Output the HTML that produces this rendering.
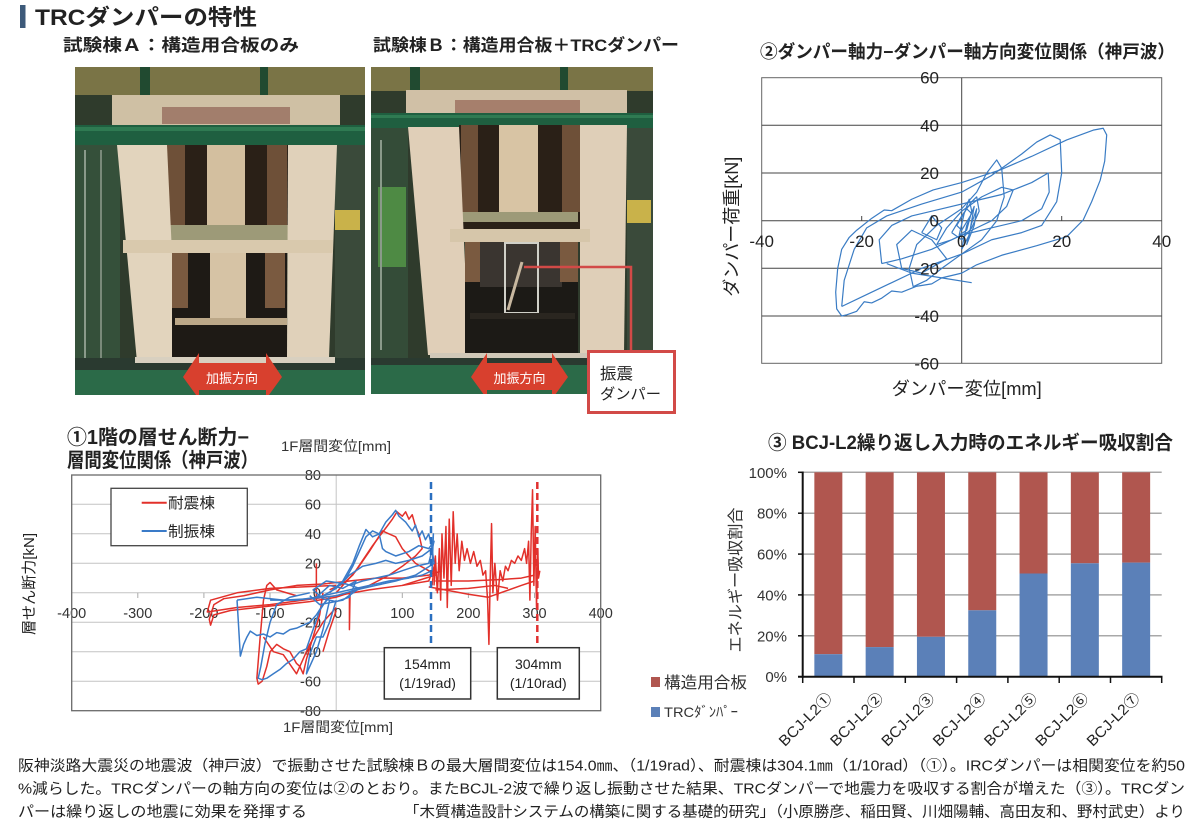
<!DOCTYPE html>
<html lang="ja">
<head>
<meta charset="utf-8">
<style>
html,body{margin:0;padding:0;background:#fff;}
svg{display:block;}
text{font-family:"Liberation Sans","Noto Sans CJK JP",sans-serif;}
.b{font-weight:bold;}
</style>
</head>
<body>
<svg width="1190" height="836" viewBox="0 0 1190 836" xmlns="http://www.w3.org/2000/svg">
<rect width="1190" height="836" fill="#fff"/>
<defs>
<clipPath id="cA"><rect x="75" y="67" width="290" height="328"/></clipPath>
<clipPath id="cB"><rect x="371" y="67" width="282" height="327"/></clipPath>
<clipPath id="c1"><rect x="71.7" y="475" width="529" height="235.7"/></clipPath>
<clipPath id="c2"><rect x="761.7" y="77.7" width="400" height="285.6"/></clipPath>
</defs>

<!-- Header -->
<rect x="20" y="5" width="5.5" height="23" fill="#3d5a7a"/>
<text x="35" y="25" font-size="22" class="b" fill="#222" textLength="222" lengthAdjust="spacingAndGlyphs">TRCダンパーの特性</text>
<text x="63" y="51" font-size="17" class="b" fill="#222" textLength="236" lengthAdjust="spacingAndGlyphs">試験棟Ａ：構造用合板のみ</text>
<text x="373" y="51" font-size="17" class="b" fill="#222" textLength="306" lengthAdjust="spacingAndGlyphs">試験棟Ｂ：構造用合板＋TRCダンパー</text>

<!-- Photo A -->
<g clip-path="url(#cA)">
<rect x="75" y="67" width="290" height="328" fill="#2f3b2c"/>
<rect x="75" y="67" width="290" height="28" fill="#7a7446"/>
<rect x="140" y="67" width="10" height="60" fill="#214a30"/>
<rect x="260" y="67" width="8" height="60" fill="#214a30"/>
<rect x="75" y="145" width="45" height="225" fill="#35503a"/>
<rect x="84" y="150" width="2" height="210" fill="#8a9a8a"/>
<rect x="100" y="150" width="2" height="210" fill="#7a8a7a"/>
<rect x="335" y="145" width="30" height="225" fill="#3a4a3a"/>
<rect x="335" y="210" width="25" height="20" fill="#c9b24a"/>
<rect x="112" y="95" width="228" height="30" fill="#cfc0a4"/>
<rect x="162" y="107" width="128" height="17" fill="#a27e6c"/>
<rect x="75" y="125" width="290" height="20" fill="#1f5f40"/>
<rect x="75" y="127" width="290" height="4" fill="#2f7a52"/>
<rect x="165" y="145" width="125" height="95" fill="#2a2017"/>
<rect x="167" y="145" width="18" height="85" fill="#6e5038"/>
<rect x="267" y="145" width="20" height="85" fill="#6e5038"/>
<rect x="207" y="145" width="38" height="85" fill="#d3bf9f"/>
<rect x="170" y="225" width="120" height="15" fill="#9d9a78"/>
<polygon points="117,145 167,145 177,362 137,362" fill="#e2d4bd"/>
<polygon points="288,145 337,145 329,358 287,358" fill="#e0d1ba"/>
<rect x="123" y="240" width="210" height="13" fill="#d9c9ad"/>
<rect x="172" y="253" width="115" height="105" fill="#1e1a15"/>
<rect x="172" y="253" width="16" height="55" fill="#7a5a40"/>
<rect x="265" y="253" width="20" height="55" fill="#7a5a40"/>
<rect x="210" y="253" width="36" height="68" fill="#d6c3a5"/>
<rect x="175" y="318" width="112" height="7" fill="#bca888"/>
<rect x="75" y="358" width="290" height="14" fill="#2a3a30"/>
<rect x="135" y="357" width="200" height="6" fill="#d8d0c0"/>
<rect x="75" y="370" width="290" height="25" fill="#2b6a48"/>
<polygon points="183,377 199,353 199,363 266,363 266,353 282,377 266,399 266,390 199,390 199,399" fill="#d8402e"/>
<text x="232" y="383" font-size="13" fill="#fff" text-anchor="middle" textLength="52" lengthAdjust="spacingAndGlyphs">加振方向</text>
</g>

<!-- Photo B -->
<g clip-path="url(#cB)">
<rect x="371" y="67" width="282" height="327" fill="#2f3b2c"/>
<rect x="371" y="67" width="282" height="24" fill="#7a7446"/>
<rect x="410" y="67" width="10" height="40" fill="#214a30"/>
<rect x="560" y="67" width="8" height="40" fill="#214a30"/>
<rect x="371" y="128" width="37" height="230" fill="#344c38"/>
<rect x="378" y="187" width="28" height="80" fill="#4e8a44"/>
<rect x="380" y="140" width="2" height="210" fill="#8a9a8a"/>
<rect x="627" y="128" width="26" height="230" fill="#3a4a3a"/>
<rect x="627" y="200" width="24" height="23" fill="#c9b24a"/>
<rect x="406" y="90" width="221" height="25" fill="#d0c0a6"/>
<rect x="455" y="100" width="125" height="15" fill="#a67f6c"/>
<rect x="371" y="113" width="282" height="15" fill="#1f5f40"/>
<rect x="371" y="115" width="282" height="3" fill="#2f7a52"/>
<rect x="459" y="125" width="121" height="107" fill="#2a2017"/>
<rect x="461" y="125" width="17" height="87" fill="#6e5038"/>
<rect x="562" y="125" width="18" height="87" fill="#6e5038"/>
<rect x="499" y="125" width="39" height="87" fill="#d8c4a4"/>
<rect x="462" y="212" width="116" height="10" fill="#9d9a78"/>
<polygon points="408,127 459,127 469,355 428,355" fill="#e0cfb8"/>
<polygon points="580,125 627,125 624,353 580,353" fill="#dfcfb8"/>
<rect x="450" y="229" width="140" height="13" fill="#d6c6aa"/>
<rect x="465" y="242" width="113" height="111" fill="#1c1a16"/>
<rect x="480" y="242" width="82" height="45" fill="#3a3530"/>
<rect x="465" y="242" width="15" height="40" fill="#7a5a40"/>
<rect x="560" y="242" width="18" height="40" fill="#7a5a40"/>
<rect x="505" y="243" width="33" height="70" fill="none" stroke="#d0d0c8" stroke-width="2"/>
<line x1="508" y1="310" x2="522" y2="262" stroke="#c8b8a0" stroke-width="3"/>
<rect x="470" y="313" width="105" height="6" fill="#2a2620"/>
<rect x="430" y="353" width="175" height="5" fill="#d0c8b8"/>
<rect x="371" y="358" width="282" height="10" fill="#2a3a30"/>
<rect x="371" y="365" width="282" height="29" fill="#2b6a48"/>
<polygon points="471,377 487,353 487,363 552,363 552,353 568,377 552,399 552,390 487,390 487,399" fill="#d8402e"/>
<text x="519.5" y="383" font-size="13" fill="#fff" text-anchor="middle" textLength="52" lengthAdjust="spacingAndGlyphs">加振方向</text>
</g>
<polyline points="524,267 631,267 631,351" fill="none" stroke="#d24a47" stroke-width="2.5"/>
<rect x="588.5" y="351.5" width="86" height="61" fill="#fff" stroke="#d24a47" stroke-width="3"/>
<text x="600" y="379" font-size="16" fill="#222" textLength="33" lengthAdjust="spacingAndGlyphs">振震</text>
<text x="600" y="399" font-size="15" fill="#222" textLength="61" lengthAdjust="spacingAndGlyphs">ダンパー</text>

<!-- Chart 2 -->
<text x="760" y="58" font-size="18" class="b" fill="#222" textLength="415" lengthAdjust="spacingAndGlyphs">②ダンパー軸力−ダンパー軸方向変位関係（神戸波）</text>
<rect x="761.7" y="77.7" width="400" height="285.6" fill="#fff" stroke="#666" stroke-width="1"/>
<g stroke="#444" stroke-width="1">
<line x1="761.7" y1="125.3" x2="1161.7" y2="125.3"/>
<line x1="761.7" y1="173" x2="1161.7" y2="173"/>
<line x1="761.7" y1="220.7" x2="1161.7" y2="220.7"/>
<line x1="761.7" y1="268.3" x2="1161.7" y2="268.3"/>
<line x1="761.7" y1="316" x2="1161.7" y2="316"/>
<line x1="961.7" y1="77.7" x2="961.7" y2="363.3"/>
<line x1="861.7" y1="216" x2="861.7" y2="220.7"/>
<line x1="1061.7" y1="216" x2="1061.7" y2="220.7"/>
</g>
<g clip-path="url(#c2)">
<g transform="translate(961.7,220.7) scale(5,-2.383)" fill="none" stroke="#3a7cc4" stroke-width="1.2" stroke-linejoin="round">
<path vector-effect="non-scaling-stroke" d="M0 -22 L-4 -24 L-6 -26.5 L-9 -27.5 L-12 -30 L-14 -29.5 L-16 -32.5 L-18 -34.5 L-19.5 -34 L-21 -38 L-23 -39.5 L-24 -40 L-25 -37 L-25.2 -30 L-24.8 -20 L-24 -12 L-22.5 -7 L-21 -4 L-18 1 L-15.5 4.5 L-14 4.2 L-10 9 L-5.7 12.9 L0 16 L7.7 21.3 L14 27 L21 33.9 L26.3 38 L28.3 38.8 L29 36 L28.6 25 L27.7 17 L26 8 L24.3 0.3 L21 -6.7 L15 -10.5 L8 -14.5 L3 -18.5 L0 -22"/>
<path vector-effect="non-scaling-stroke" d="M-24 -36 L-23.5 -25 L-21.5 -12 L-19 -3 L-15 2 L-8 7 L0 12 L6 19 L12 28 L15 33 L17.7 36 L19.7 34 L20 20 L19 8 L16 -2 L12 -5 L6 -8 L0 -14 L-8 -20 L-14 -26 L-20 -32 L-24 -36"/>
<path vector-effect="non-scaling-stroke" d="M-16 -18 L-16.5 -8 L-14 -2 L-10 2 L-4 5 L2 8 L8 11 L14 16 L17.3 20 L17.5 12 L16 5 L12 0 L6 -3 L0 -6 L-6 -12 L-12 -16 L-16 -18"/>
<path vector-effect="non-scaling-stroke" d="M-9.7 -27.7 L-10.5 -20 L-9 -10 L-5 -2 L0 5 L3 12 L5 20 L7 25.5 L8 22 L8.5 10 L7 0 L4 -8 L0 -14 L-4 -20 L-7 -25 L-9.7 -27.7"/>
<path vector-effect="non-scaling-stroke" d="M-5 -10 L-3 -3 L0 4 L4 10 L8 14 L10.3 12.9 L9 6 L6 0 L2 -4 L-2 -8 L-5 -10"/>
<path vector-effect="non-scaling-stroke" d="M-2 -5 L0 2 L2 8 L3 10 L3.5 4 L2 -3 L0 -8 L-2 -5 M-1 -2 L1 5 L2 3 L0 -4 Z M0 -12 L1 -2 L2.5 6 L1.5 -6 L0 -12 M-0.5 -6 L0.5 3 L1.5 9 L2 4 L1 -4 Z M1 -10 L2 -1 L3 5 L2.5 -2 Z"/>
<path vector-effect="non-scaling-stroke" d="M-8 -5 L-6 2 L-4 -3 L-5 -8 L-8 -5 M-12 -20 L-13 -10 L-10 -4 L-6 -8 L-3 -16 L-8 -22 Z"/>
<path vector-effect="non-scaling-stroke" d="M-15 -18 L-10 -22 L-4 -24 L2 -26"/>
</g>
</g>
<g font-size="17" fill="#222">
<text x="761.7" y="247" text-anchor="middle">-40</text>
<text x="861.7" y="247" text-anchor="middle">-20</text>
<text x="961.7" y="247" text-anchor="middle">0</text>
<text x="1061.7" y="247" text-anchor="middle">20</text>
<text x="1161.7" y="247" text-anchor="middle">40</text>
<text x="939" y="83.7" text-anchor="end">60</text>
<text x="939" y="131.3" text-anchor="end">40</text>
<text x="939" y="179" text-anchor="end">20</text>
<text x="939" y="226.7" text-anchor="end">0</text>
<text x="939" y="274.3" text-anchor="end">-20</text>
<text x="939" y="322" text-anchor="end">-40</text>
<text x="939" y="369.3" text-anchor="end">-60</text>
</g>
<text x="891.7" y="395" font-size="18" fill="#222" textLength="150" lengthAdjust="spacingAndGlyphs">ダンパー変位[mm]</text>
<text transform="translate(738,226.7) rotate(-90)" x="0" y="0" font-size="18" fill="#222" text-anchor="middle" textLength="140" lengthAdjust="spacingAndGlyphs">ダンパー荷重[kN]</text>

<!-- Chart 1 -->
<text x="67" y="444" font-size="20" class="b" fill="#222" textLength="182" lengthAdjust="spacingAndGlyphs">①1階の層せん断力−</text>
<text x="67" y="467" font-size="20" class="b" fill="#222" textLength="191" lengthAdjust="spacingAndGlyphs">層間変位関係（神戸波）</text>
<text x="281" y="451" font-size="14" fill="#333" textLength="110" lengthAdjust="spacingAndGlyphs">1F層間変位[mm]</text>
<rect x="71.7" y="475" width="529" height="235.7" fill="#fff"/>
<g stroke="#c4c4c4" stroke-width="1">
<line x1="71.7" y1="504.3" x2="600.7" y2="504.3"/>
<line x1="71.7" y1="533.7" x2="600.7" y2="533.7"/>
<line x1="71.7" y1="563.3" x2="600.7" y2="563.3"/>
<line x1="71.7" y1="592.8" x2="600.7" y2="592.8"/>
<line x1="71.7" y1="622.2" x2="600.7" y2="622.2"/>
<line x1="71.7" y1="651.7" x2="600.7" y2="651.7"/>
<line x1="71.7" y1="681.2" x2="600.7" y2="681.2"/>
<line x1="336.2" y1="475" x2="336.2" y2="710.7"/>
</g>
<g stroke="#aaa" stroke-width="1">
<line x1="137.8" y1="592.8" x2="137.8" y2="598"/>
<line x1="203.9" y1="592.8" x2="203.9" y2="598"/>
<line x1="270" y1="592.8" x2="270" y2="598"/>
<line x1="402.3" y1="592.8" x2="402.3" y2="598"/>
<line x1="468.4" y1="592.8" x2="468.4" y2="598"/>
<line x1="534.5" y1="592.8" x2="534.5" y2="598"/>
</g>
<g font-size="14.5" fill="#333">
<text x="71.7" y="618" text-anchor="middle">-400</text>
<text x="137.8" y="618" text-anchor="middle">-300</text>
<text x="203.9" y="618" text-anchor="middle">-200</text>
<text x="270" y="618" text-anchor="middle">-100</text>
<text x="338" y="618" text-anchor="middle">0</text>
<text x="402.3" y="618" text-anchor="middle">100</text>
<text x="468.4" y="618" text-anchor="middle">200</text>
<text x="534.5" y="618" text-anchor="middle">300</text>
<text x="600.7" y="618" text-anchor="middle">400</text>
<text x="321" y="480" text-anchor="end">80</text>
<text x="321" y="509.5" text-anchor="end">60</text>
<text x="321" y="539" text-anchor="end">40</text>
<text x="321" y="568.5" text-anchor="end">20</text>
<text x="321" y="598" text-anchor="end">0</text>
<text x="321" y="627.5" text-anchor="end">-20</text>
<text x="321" y="657" text-anchor="end">-40</text>
<text x="321" y="686.5" text-anchor="end">-60</text>
<text x="321" y="716" text-anchor="end">-80</text>
</g>
<g clip-path="url(#c1)">
<g transform="translate(336.2,592.8) scale(0.6611,-1.4728)" fill="none" stroke-linejoin="round">
<g stroke="#e2302a" stroke-width="1.5">
<path vector-effect="non-scaling-stroke" d="M-10 2 L10 6 L25 12 L40 22 L55 32 L65 38 L75 44 L85 50 L92 55 L100 52 L105 55 L110 50 L115 53 L120 45 L125 40 L130 30 L120 25 L100 18 L80 12 L50 5 L20 0 L0 -3 L-40 -6 L-80 -8 L-120 -10 L-160 -12 L-185 -15 L-190 -22 L-192 -18 L-185 -8 L-170 -4 L-140 -2 L-100 2 L-60 5 L-20 6 L20 8 L60 10 L100 10 L140 12 L160 15"/>
<path vector-effect="non-scaling-stroke" d="M0 0 L30 15 L50 28 L60 35 L70 42 L80 40 L90 38 L100 30 L120 20 L140 15 L150 12 L100 5 L50 2 L0 -2 L-50 -5 L-100 -8 L-150 -10 L-195 -13 L-190 -5 L-150 0 L-100 3 L-50 4 L0 5"/>
<path vector-effect="non-scaling-stroke" d="M145 5 L150 25 L153 0 L156 30 L158 -5 L160 40 L163 10 L166 45 L168 -10 L171 50 L174 5 L177 55 L180 20 L183 40 L186 15 L190 35 L194 22 L198 30 L203 20 L208 28 L213 18 L218 22 L222 12 L226 15 L229 -5 L231 -35 L233 10 L235 47 L237 0 L240 20 L244 -5 L248 15 L252 8 L256 18 L260 15 L265 22 L270 20 L275 25 L280 22 L285 30 L288 20 L291 35 L293 -5 L295 40 L297 70 L299 5 L301 45 L303 -10 L305 30 L306 10 L308 15"/>
<path vector-effect="non-scaling-stroke" d="M150 8 L200 8 L250 9 L280 10 L300 12 M150 2 L200 3 L240 5 L260 3 M140 4 L200 -1 L230 -3 L280 5 L300 8 M100 5 L140 8 L150 20 L148 5"/>
<path vector-effect="non-scaling-stroke" d="M-20 0 L-25 -15 L-35 -30 L-45 -45 L-50 -55 L-55 -50 L-60 -48 L-70 -40 L-80 -38 L-90 -35 L-100 -40 L-105 -50 L-112 -60 L-118 -62 L-120 -58 L-115 -30 L-110 -5 L-105 5 L-100 7 L-90 2 L-60 -2"/>
<path vector-effect="non-scaling-stroke" d="M-30 20 L-30 -5 M20 0 L20 -25 L21 0 M-110 -30 L-95 -40 L-80 -42 L-60 -55 L-40 -35 L-20 -20 L0 -10 M-20 -40 L-10 -25 L0 -12"/>
</g>
<g stroke="#3a7bc8" stroke-width="1.5">
<path vector-effect="non-scaling-stroke" d="M-20 -2 L0 3 L15 10 L25 18 L35 28 L45 38 L55 42 L65 40 L75 48 L85 53 L90 56 L95 52 L100 50 L105 48 L110 45 L115 42 L120 46 L125 38 L130 42 L135 36 L140 40 L145 30 L147 40 L145 15 L130 12 L110 10 L80 8 L50 5 L20 2 L0 0 L-30 -3 L-60 -5 L-100 -5"/>
<path vector-effect="non-scaling-stroke" d="M-10 0 L10 8 L25 20 L35 32 L45 43 L55 38 L65 40 L70 30 L75 28 L90 25 L110 28 L125 32 L140 30 L148 35 L140 20 L120 18 L100 15 L80 12 L60 10 L40 8 L20 5"/>
<path vector-effect="non-scaling-stroke" d="M5 5 L20 12 L40 18 L60 20 L75 22 L90 20 L110 22 L130 25 L145 30 L148 20 L120 12 L90 8 L60 5 L30 2 L0 -2 L-40 -4 L-80 -5 L-120 -3 L-150 -5"/>
<path vector-effect="non-scaling-stroke" d="M-15 -5 L-25 -12 L-35 -25 L-45 -38 L-55 -40 L-65 -45 L-75 -48 L-85 -52 L-95 -55 L-105 -58 L-112 -59 L-118 -58 L-114 -50 L-108 -35 L-100 -20 L-90 -8 L-70 -3 L-40 0"/>
<path vector-effect="non-scaling-stroke" d="M-150 -5 L-148 -20 L-145 -43 L-140 -35 L-135 -30 L-130 -26 L-120 -29 L-110 -28 L-100 -30 L-90 -27 L-80 -28 L-70 -25 L-60 -24 L-50 -22 L-40 -20 L-30 -15 L-20 -8 L-10 -3"/>
<path vector-effect="non-scaling-stroke" d="M-10 -5 L-20 -25 L-30 -40 L-40 -50 L-45 -55 L-40 -42 L-30 -30 L-20 -30 L-10 -20 L0 -5"/>
<path vector-effect="non-scaling-stroke" d="M-30 -3 L-10 5 L10 3 L30 8 L20 -3 L0 -6 L-20 -4 L-35 2 L-15 8 L15 6 L35 3 L10 -5 L-25 -8 L-40 -2"/>
</g>
</g>
</g>
<rect x="71.7" y="475" width="529" height="235.7" fill="none" stroke="#6a6a6a" stroke-width="1.3"/>
<rect x="111" y="488.3" width="136.3" height="57.4" fill="#fff" stroke="#444" stroke-width="1.3"/>
<line x1="141.7" y1="502.7" x2="166.7" y2="502.7" stroke="#e2302a" stroke-width="2"/>
<text x="168" y="508" font-size="15" fill="#222" textLength="47" lengthAdjust="spacingAndGlyphs">耐震棟</text>
<line x1="141.7" y1="531" x2="166.7" y2="531" stroke="#3a7bc8" stroke-width="2"/>
<text x="168" y="536.5" font-size="15" fill="#222" textLength="47" lengthAdjust="spacingAndGlyphs">制振棟</text>
<line x1="431" y1="482" x2="431" y2="647" stroke="#2a6fc0" stroke-width="2.5" stroke-dasharray="7,4"/>
<line x1="537.3" y1="482" x2="537.3" y2="648" stroke="#e03030" stroke-width="2.5" stroke-dasharray="7,4"/>
<rect x="384.3" y="647.7" width="86.4" height="51.3" fill="#fff" stroke="#333" stroke-width="1.5"/>
<text x="427.5" y="669" font-size="14" fill="#222" text-anchor="middle">154mm</text>
<text x="427.5" y="688" font-size="14" fill="#222" text-anchor="middle">(1/19rad)</text>
<rect x="497.3" y="647.7" width="82" height="51.3" fill="#fff" stroke="#333" stroke-width="1.5"/>
<text x="538.3" y="669" font-size="14" fill="#222" text-anchor="middle">304mm</text>
<text x="538.3" y="688" font-size="14" fill="#222" text-anchor="middle">(1/10rad)</text>
<text x="283" y="732" font-size="14" fill="#333" textLength="110" lengthAdjust="spacingAndGlyphs">1F層間変位[mm]</text>
<text transform="translate(34,584) rotate(-90)" font-size="15" fill="#222" text-anchor="middle" textLength="102" lengthAdjust="spacingAndGlyphs">層せん断力[kN]</text>

<!-- Chart 3 -->
<text x="768" y="449" font-size="19" class="b" fill="#222" textLength="405" lengthAdjust="spacingAndGlyphs">③ BCJ-L2繰り返し入力時のエネルギー吸収割合</text>
<g stroke="#a8a8a8" stroke-width="1.5">
<line x1="802.7" y1="472.3" x2="1161.7" y2="472.3"/>
<line x1="802.7" y1="513.2" x2="1161.7" y2="513.2"/>
<line x1="802.7" y1="554.1" x2="1161.7" y2="554.1"/>
<line x1="802.7" y1="594.9" x2="1161.7" y2="594.9"/>
<line x1="802.7" y1="635.8" x2="1161.7" y2="635.8"/>
</g>
<g>
<rect x="814.35" y="472.3" width="28" height="181.9" fill="#b0564f"/>
<rect x="814.35" y="654.2" width="28" height="22.5" fill="#5b80b8"/>
<rect x="865.65" y="472.3" width="28" height="174.8" fill="#b0564f"/>
<rect x="865.65" y="647.1" width="28" height="29.6" fill="#5b80b8"/>
<rect x="916.95" y="472.3" width="28" height="164.5" fill="#b0564f"/>
<rect x="916.95" y="636.8" width="28" height="39.9" fill="#5b80b8"/>
<rect x="968.25" y="472.3" width="28" height="138" fill="#b0564f"/>
<rect x="968.25" y="610.3" width="28" height="66.4" fill="#5b80b8"/>
<rect x="1019.55" y="472.3" width="28" height="101.2" fill="#b0564f"/>
<rect x="1019.55" y="573.5" width="28" height="103.2" fill="#5b80b8"/>
<rect x="1070.85" y="472.3" width="28" height="91" fill="#b0564f"/>
<rect x="1070.85" y="563.3" width="28" height="113.4" fill="#5b80b8"/>
<rect x="1122.15" y="472.3" width="28" height="90.3" fill="#b0564f"/>
<rect x="1122.15" y="562.6" width="28" height="114.1" fill="#5b80b8"/>
</g>
<g stroke="#111" stroke-width="2">
<line x1="802.7" y1="471.5" x2="802.7" y2="677.7"/>
<line x1="798" y1="676.7" x2="1162.5" y2="676.7"/>
</g>
<g stroke="#111" stroke-width="1.5">
<line x1="798" y1="472.3" x2="802.7" y2="472.3"/>
<line x1="798" y1="513.2" x2="802.7" y2="513.2"/>
<line x1="798" y1="554.1" x2="802.7" y2="554.1"/>
<line x1="798" y1="594.9" x2="802.7" y2="594.9"/>
<line x1="798" y1="635.8" x2="802.7" y2="635.8"/>
<line x1="802.7" y1="676.7" x2="802.7" y2="683"/>
<line x1="854" y1="676.7" x2="854" y2="683"/>
<line x1="905.3" y1="676.7" x2="905.3" y2="683"/>
<line x1="956.6" y1="676.7" x2="956.6" y2="683"/>
<line x1="1007.9" y1="676.7" x2="1007.9" y2="683"/>
<line x1="1059.2" y1="676.7" x2="1059.2" y2="683"/>
<line x1="1110.5" y1="676.7" x2="1110.5" y2="683"/>
<line x1="1161.7" y1="676.7" x2="1161.7" y2="683"/>
</g>
<g font-size="15" fill="#333" text-anchor="end">
<text x="787" y="477.8">100%</text>
<text x="787" y="518.7">80%</text>
<text x="787" y="559.6">60%</text>
<text x="787" y="600.4">40%</text>
<text x="787" y="641.3">20%</text>
<text x="787" y="682.2">0%</text>
</g>
<text transform="translate(741,580) rotate(-90)" font-size="16" fill="#333" text-anchor="middle" textLength="145" lengthAdjust="spacingAndGlyphs">エネルギー吸収割合</text>
<g font-size="15" fill="#222" text-anchor="end">
<text transform="translate(833,699) rotate(-45)" textLength="68" lengthAdjust="spacingAndGlyphs">BCJ-L2①</text>
<text transform="translate(884.3,699) rotate(-45)" textLength="68" lengthAdjust="spacingAndGlyphs">BCJ-L2②</text>
<text transform="translate(935.6,699) rotate(-45)" textLength="68" lengthAdjust="spacingAndGlyphs">BCJ-L2③</text>
<text transform="translate(986.9,699) rotate(-45)" textLength="68" lengthAdjust="spacingAndGlyphs">BCJ-L2④</text>
<text transform="translate(1038.2,699) rotate(-45)" textLength="68" lengthAdjust="spacingAndGlyphs">BCJ-L2⑤</text>
<text transform="translate(1089.5,699) rotate(-45)" textLength="68" lengthAdjust="spacingAndGlyphs">BCJ-L2⑥</text>
<text transform="translate(1140.8,699) rotate(-45)" textLength="68" lengthAdjust="spacingAndGlyphs">BCJ-L2⑦</text>
</g>
<rect x="651" y="677" width="9" height="10" fill="#b0564f"/>
<text x="664" y="688" font-size="16" fill="#333" textLength="83" lengthAdjust="spacingAndGlyphs">構造用合板</text>
<rect x="651" y="707" width="9" height="10" fill="#5b80b8"/>
<text x="664" y="717" font-size="14" fill="#333" textLength="74" lengthAdjust="spacingAndGlyphs">TRCﾀﾞﾝﾊﾟｰ</text>

<!-- Bottom text -->
<g font-size="15" fill="#222">
<text x="18" y="770.5" textLength="1167" lengthAdjust="spacingAndGlyphs">阪神淡路大震災の地震波（神戸波）で振動させた試験棟Ｂの最大層間変位は154.0㎜、（1/19rad）、耐震棟は304.1㎜（1/10rad）（①）。IRCダンパーは相関変位を約50</text>
<text x="18" y="793.5" textLength="1167" lengthAdjust="spacingAndGlyphs">%減らした。TRCダンパーの軸方向の変位は②のとおり。またBCJL-2波で繰り返し振動させた結果、TRCダンパーで地震力を吸収する割合が増えた（③）。TRCダン</text>
<text x="18" y="816.5" textLength="289" lengthAdjust="spacingAndGlyphs">パーは繰り返しの地震に効果を発揮する</text>
<text x="404" y="816.5" textLength="781" lengthAdjust="spacingAndGlyphs">「木質構造設計システムの構築に関する基礎的研究」（小原勝彦、稲田賢、川畑陽輔、高田友和、野村武史）より</text>
</g>
</svg>
</body>
</html>
